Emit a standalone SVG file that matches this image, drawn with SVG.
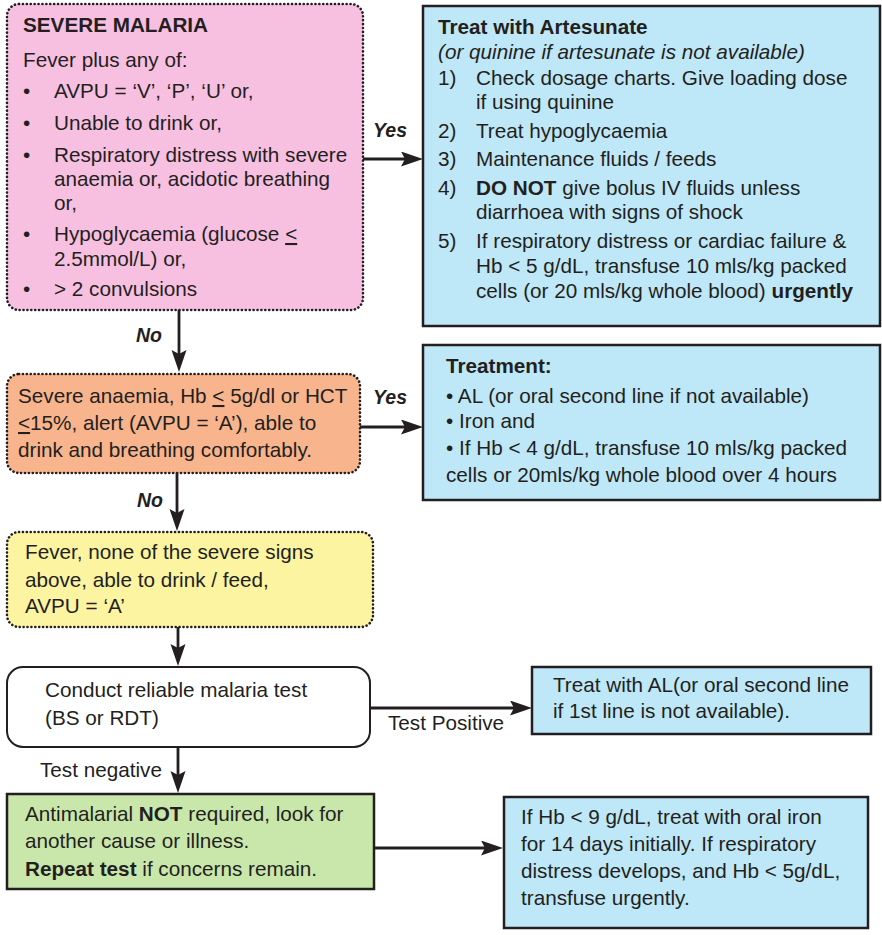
<svg xmlns="http://www.w3.org/2000/svg" width="882" height="935" viewBox="0 0 882 935">
<defs>
<style>
text{font-family:"Liberation Sans",Arial,sans-serif;font-size:20.7px;fill:#231f20}
.b{font-weight:bold}
.i{font-style:italic}
.lbl{font-weight:bold;font-style:italic;font-size:19.5px}
.u{text-decoration:underline}
.dot{stroke:#231f20;stroke-width:2.6;stroke-dasharray:0.1 3.8;stroke-linecap:round}
.solid{stroke:#231f20;stroke-width:2.5}
.con{stroke:#231f20;stroke-width:2.8;fill:none;marker-end:url(#ah)}
</style>
<marker id="ah" markerUnits="userSpaceOnUse" markerWidth="24" markerHeight="16" refX="12" refY="7.5" orient="auto">
<path d="M0,0 L22,7.5 L0,15 L4,7.5 Z" fill="#231f20"/>
</marker>
</defs>
<rect width="882" height="935" fill="#ffffff"/>

<g id="severe-malaria">
<rect x="7" y="4" width="356" height="306" rx="12" fill="#f8c0e0" class="dot"/>
<text x="23" y="32" class="b">SEVERE MALARIA</text>
<text x="23" y="67">Fever plus any of:</text>
<text x="23" y="98">•</text><text x="54" y="98">AVPU = ‘V’, ‘P’, ‘U’ or,</text>
<text x="23" y="130">•</text><text x="54" y="130">Unable to drink or,</text>
<text x="23" y="162">•</text><text x="54" y="162">Respiratory distress with severe</text>
<text x="54" y="186">anaemia or, acidotic breathing</text>
<text x="54" y="210">or,</text>
<text x="23" y="241">•</text><text x="54" y="241">Hypoglycaemia (glucose <tspan class="u">&lt;</tspan></text>
<text x="54" y="266">2.5mmol/L) or,</text>
<text x="23" y="296">•</text><text x="54" y="296">&gt; 2 convulsions</text>
</g>

<g id="treat-artesunate">
<rect x="423" y="6" width="457" height="320" fill="#bee7f7" class="solid"/>
<text x="438" y="34" class="b">Treat with Artesunate</text>
<text x="438" y="59" class="i">(or quinine if artesunate is not available)</text>
<text x="438" y="85">1)</text><text x="476" y="85">Check dosage charts. Give loading dose</text>
<text x="476" y="109">if using quinine</text>
<text x="438" y="138">2)</text><text x="476" y="138">Treat hypoglycaemia</text>
<text x="438" y="166">3)</text><text x="476" y="166">Maintenance fluids / feeds</text>
<text x="438" y="195">4)</text><text x="476" y="195"><tspan class="b">DO NOT</tspan> give bolus IV fluids unless</text>
<text x="476" y="219">diarrhoea with signs of shock</text>
<text x="438" y="248">5)</text><text x="476" y="248">If respiratory distress or cardiac failure &amp;</text>
<text x="476" y="273">Hb &lt; 5 g/dL, transfuse 10 mls/kg packed</text>
<text x="476" y="298">cells (or 20 mls/kg whole blood) <tspan class="b">urgently</tspan></text>
</g>

<g id="severe-anaemia">
<rect x="7" y="374" width="353" height="99" rx="12" fill="#f8b48c" class="dot"/>
<text x="18" y="403">Severe anaemia, Hb <tspan class="u">&lt;</tspan> 5g/dl or HCT</text>
<text x="18" y="430"><tspan class="u">&lt;</tspan>15%, alert (AVPU = ‘A’), able to</text>
<text x="18" y="457">drink and breathing comfortably.</text>
</g>

<g id="treatment-anaemia">
<rect x="423" y="345" width="457" height="155" fill="#bee7f7" class="solid"/>
<text x="446" y="373" class="b">Treatment:</text>
<text x="446" y="403">• AL (or oral second line if not available)</text>
<text x="446" y="428">• Iron and</text>
<text x="446" y="455">• If Hb &lt; 4 g/dL, transfuse 10 mls/kg packed</text>
<text x="446" y="482">cells or 20mls/kg whole blood over 4 hours</text>
</g>

<g id="fever-no-severe">
<rect x="7" y="532" width="366" height="95" rx="12" fill="#fcf4a0" class="dot"/>
<text x="25" y="559">Fever, none of the severe signs</text>
<text x="25" y="587">above, able to drink / feed,</text>
<text x="25" y="613">AVPU = ‘A’</text>
</g>

<g id="conduct-test">
<rect x="7" y="667" width="363" height="80" rx="16" fill="#ffffff" stroke="#231f20" stroke-width="2"/>
<text x="45" y="697">Conduct reliable malaria test</text>
<text x="45" y="725">(BS or RDT)</text>
</g>

<g id="treat-al">
<rect x="532" y="667" width="339" height="67" fill="#bee7f7" class="solid"/>
<text x="553" y="692">Treat with AL(or oral second line</text>
<text x="553" y="718">if 1st line is not available).</text>
</g>

<g id="antimalarial-not-required">
<rect x="7" y="794" width="367" height="95" fill="#c9e7ab" class="solid"/>
<text x="25" y="821">Antimalarial <tspan class="b">NOT</tspan> required, look for</text>
<text x="25" y="848">another cause or illness.</text>
<text x="25" y="876"><tspan class="b">Repeat test</tspan> if concerns remain.</text>
</g>

<g id="oral-iron">
<rect x="504" y="797" width="364" height="131" fill="#bee7f7" class="solid"/>
<text x="521" y="824">If Hb &lt; 9 g/dL, treat with oral iron</text>
<text x="521" y="851">for 14 days initially. If respiratory</text>
<text x="521" y="878">distress develops, and Hb &lt; 5g/dL,</text>
<text x="521" y="905">transfuse urgently.</text>
</g>

<g id="connectors">
<path class="con" d="M363,159 L413,159"/>
<text x="373" y="137" class="lbl">Yes</text>
<path class="con" d="M179,310 L179,362"/>
<text x="136" y="342" class="lbl">No</text>
<path class="con" d="M360,427 L413,427"/>
<text x="373" y="404" class="lbl">Yes</text>
<path class="con" d="M177,473 L177,521"/>
<text x="137" y="507" class="lbl">No</text>
<path class="con" d="M178,627 L178,656"/>
<path class="con" d="M370,708 L522,708"/>
<text x="388" y="730">Test Positive</text>
<path class="con" d="M178,747 L178,783"/>
<text x="40" y="777">Test negative</text>
<path class="con" d="M374,848 L493,848"/>
</g>
</svg>
